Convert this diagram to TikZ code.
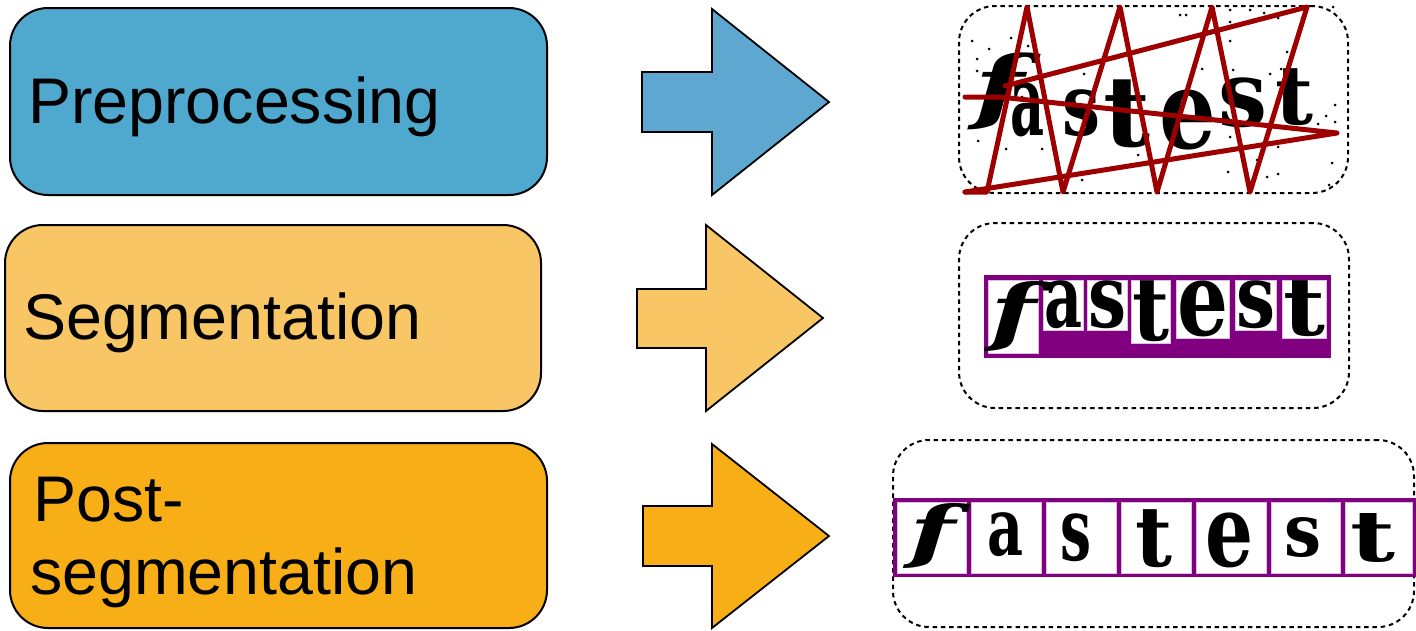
\documentclass[tikz,border=0pt]{standalone}
\usepackage{fontspec}
\usepackage{graphicx}
\setmainfont{Liberation Sans}
\newfontfamily\capfont{DejaVu Serif}
% one captcha glyph squeezed into a w x h box (total height)
\newcommand\capglyph[3]{\resizebox*{#1pt}{#2pt}{\capfont\bfseries #3}}
\newcommand\capglyphit[3]{\resizebox*{#1pt}{#2pt}{\capfont\bfseries\itshape #3}}

\definecolor{preblue}{HTML}{4FA8CE}
\definecolor{prearrow}{HTML}{5DA7D1}
\definecolor{segyellow}{HTML}{F8C664}
\definecolor{postorange}{HTML}{F8AF17}
\definecolor{noisered}{HTML}{9E0000}
\definecolor{segpurple}{HTML}{800080}

\begin{document}
\begin{tikzpicture}[x=1pt,y=-1pt,
  stage/.style={draw=black, line width=2pt, rounded corners=38pt, inner sep=0pt},
  steplabel/.style={font=\fontsize{64.5}{74}\selectfont, inner sep=0pt, anchor=base west},
  blockarrow/.style={draw=black, line width=1.8pt, line join=miter},
  panel/.style={draw=black, line width=2pt, dash pattern=on 4.5pt off 3.8pt,
                rounded corners=36pt, inner sep=0pt},
  glyph/.style={inner sep=0pt, text=black},
  cell/.style={fill=white, draw=segpurple!25, line width=0.8pt},
  strike/.style={draw=noisered, line width=5pt, line join=round, line cap=round}]

\useasboundingbox (0,0) rectangle (1416,630);

% ---- stage boxes ----
\node[stage, fill=preblue, minimum width=537pt, minimum height=187pt] (pre) at (278.5,101.5) {};
\node[stage, fill=segyellow, minimum width=536pt, minimum height=186pt] (seg) at (273,318) {};
\node[stage, fill=postorange, minimum width=537pt, minimum height=185pt] (post) at (278.5,535.5) {};

\node[steplabel] (pretext) at (28,123) {Preprocessing};
\node[steplabel] (segtext) at (23,339) {Segmentation};
\node[steplabel] (posttext1) at (33,521) {Post-};
\node[steplabel] (posttext2) at (30,594) {segmentation};

% ---- block arrows ----
\draw[blockarrow, fill=prearrow] (642,72) -- (712,72) -- (712,9) -- (829,102)
  -- (712,195) -- (712,132) -- (642,132) -- cycle;
\draw[blockarrow, fill=segyellow] (637,289) -- (706,289) -- (706,225) -- (823,318)
  -- (706,411) -- (706,348) -- (637,348) -- cycle;
\draw[blockarrow, fill=postorange] (643,506) -- (712,506) -- (712,444) -- (829,536)
  -- (712,628) -- (712,566) -- (643,566) -- cycle;

% ---- dashed result panels ----
\node[panel, minimum width=389pt, minimum height=187pt] (img1) at (1153.5,99.5) {};
\node[panel, minimum width=390pt, minimum height=185pt] (img2) at (1154,315.5) {};
\node[panel, minimum width=521pt, minimum height=187pt] (img3) at (1153.5,533.5) {};

% ---- panel 1: noisy captcha ----
\node[glyph] (c1f) at (999,91.5) {\capglyphit{50}{77}{f}};
\node[glyph] (c1a) at (1027,110) {\capglyph{34}{54}{a}};
\node[glyph] (c1s) at (1081,113) {\capglyph{38}{47}{s}};
\node[glyph] (c1t) at (1127,114) {\capglyph{47}{68}{t}};
\node[glyph] (c1e) at (1188,120) {\capglyph{57}{60}{e}};
\node[glyph] (c1s2) at (1243,103) {\capglyph{49}{50}{s}};
\node[glyph] (c1t2) at (1294,97) {\capglyph{38}{57}{t}};

\foreach \px/\py in {972/41,989/49,1011/38,1028/46,977/71,977/59,1002/71,1022/97,
  978/141,1006/149,1042/149,1084/74,1138/155,1082/180,1180/15,1186/15,1230/10,
  1250/10,1230/22,1264/13,1278/18,1302/18,1333/7,1230/41,1287/52,1202/69,1233/70,
  1270/74,1281/69,1335/105,1326/116,1335/122,1318/124,1230/137,1278/147,1332/163,
  1228/172,1267/177,1278/174,1329/185,1257/160}
  \fill[black] (\px,\py) circle (1.5pt);

\draw[strike] (965,192) -- (987,192) -- (1027,7) -- (1063,192) -- (1120,7)
  -- (1157,192) -- (1212,7) -- (1250,192) -- (1307,7) -- (1005,86);
\draw[strike] (965,97) -- (1000,97) -- (1337,133) -- (965,192);

% ---- panel 2: segmented characters ----
\fill[segpurple] (984,275) rectangle (1331,358);
\foreach \xa/\ya/\xb/\yb in {988/280/1038/353, 1043/280/1083/330, 1087/280/1127/330,
  1131/280/1170/343, 1176/280/1229/338, 1235/280/1276/330, 1282/280/1326/338}
  \draw[cell] (\xa,\ya) rectangle (\xb,\yb);
\node[glyph] (c2f) at (1013,316.5) {\capglyphit{46}{70}{f}};
\node[glyph] (c2a) at (1063,305) {\capglyph{38}{48}{a}};
\node[glyph] (c2s) at (1107,305) {\capglyph{38}{48}{s}};
\node[glyph] (c2t) at (1150.5,311.5) {\capglyph{37}{61}{t}};
\node[glyph] (c2e) at (1202.5,309) {\capglyph{51}{56}{e}};
\node[glyph] (c2s2) at (1255.5,305) {\capglyph{39}{48}{s}};
\node[glyph] (c2t2) at (1304,309) {\capglyph{42}{56}{t}};

% ---- panel 3: normalised characters ----
\fill[segpurple] (893,498) rectangle (1416,577);
\foreach \xa/\xb in {897/966, 971/1041, 1046/1116, 1121/1191, 1196/1266, 1271/1340, 1345/1412}
  \draw[cell] (\xa,502) rectangle (\xb,573);
\node[glyph] (c3f) at (932,536) {\capglyphit{46}{65}{f}};
\node[glyph] (c3a) at (1005,535) {\capglyph{36}{44}{a}};
\node[glyph] (c3s) at (1076,538) {\capglyph{31}{48}{s}};
\node[glyph] (c3t) at (1154,539) {\capglyph{37}{58}{t}};
\node[glyph] (c3e) at (1229,540) {\capglyph{48}{55}{e}};
\node[glyph] (c3s2) at (1303,538) {\capglyph{37}{40}{s}};
\node[glyph] (c3t2) at (1373,538) {\capglyph{45}{49}{t}};
\end{tikzpicture}
\end{document}
